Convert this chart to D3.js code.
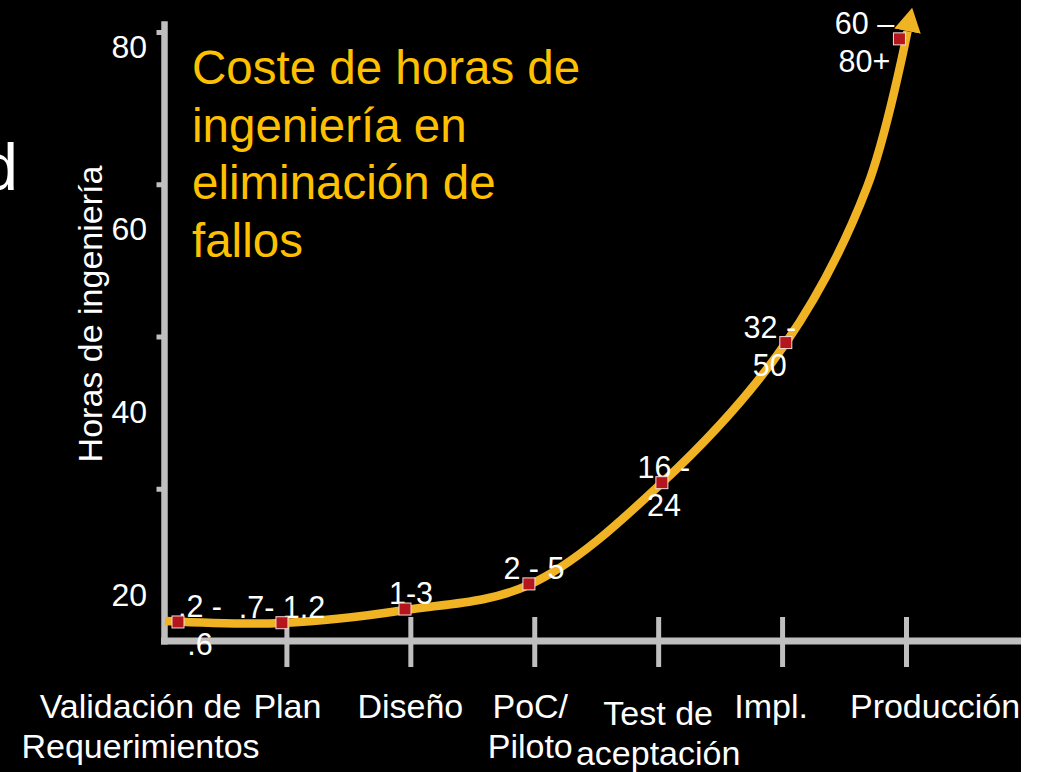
<!DOCTYPE html>
<html>
<head>
<meta charset="utf-8">
<script src="https://cdn.jsdelivr.net/npm/d3@7"></script>
<style>
  body { margin: 0; background: #fff; }
  svg { display: block; font-family: "Liberation Sans", Arial, sans-serif; }
</style>
</head>
<body>
<div class="chart"></div>
<script>
// Data
var categories = [["Validación de", "Requerimientos"], ["Plan"], ["Diseño"], ["PoC/", "Piloto"], ["Test de", "aceptación"], ["Impl."], ["Producción"]];
var markerStage = [0.125, 0.964, 1.957, 2.957, 4.03, 5.03, 5.947];
var markerHours = [2.5, 2.4, 4.2, 7.5, 20.8, 39.2, 79.1];
var pointLabels = [[".2 -", ".6"], [".7- 1.2"], ["1-3"], ["2 - 5"], ["16 -", "24"], ["32 -", "50"], ["60 –", "80+"]];
// the drawn trend curve (from the axis up to the arrow base)
var curveStage = [0.02, 0.964, 1.957, 2.957, 4.03, 5.03, 5.685, 6.012];
var curveHours = [2.63, 2.36, 4.07, 7.36, 20.76, 39.15, 59.6, 80.1];
var yTicks = [20, 40, 60, 80];
var yTickLabels = [20, 40, 60, 80];
var xTicks = [1, 2, 3, 4, 5, 6];
var titleLines = ["Coste de horas de", "ingeniería en", "eliminación de", "fallos"];
var yTitle = "Horas de ingeniería";

// layout nudges (px)
var catNudge = [[-22, 0], [1, 0], [0, 0], [-4, 0], [0, 7], [-11, 0], [29, 0]];
var labelDx = [22, 0, 6, 5, 2, -16, -35];

var svgWidth = 1039;
var svgHeight = 772;
var plotRight = 1021;

var svg = d3.select(".chart")
  .append("svg")
  .attr("width", svgWidth)
  .attr("height", svgHeight);

svg.append("rect")
  .attr("width", plotRight)
  .attr("height", svgHeight)
  .attr("fill", "#000");

// Scales
var xScale = d3.scaleLinear().domain([0, 6]).range([162.5, 906]);
var yScale = d3.scaleLinear().domain([0, 80]).range([641, 32]);
// the tick numbers in the original sit apart from the tick marks
var yLabelScale = d3.scaleLinear().domain([20, 80]).range([594.8, 46.8]);

var axisColor = "#bfbfbf";

// left edge fragment of slide text
svg.append("text")
  .attr("x", 18)
  .attr("y", 190)
  .attr("text-anchor", "end")
  .attr("font-size", 66)
  .attr("fill", "#fff")
  .text("d");

// Y axis
var yAxisG = svg.append("g")
  .attr("transform", `translate(${xScale(0) + 2},0)`)
  .call(d3.axisLeft(yScale).tickValues(yTicks).tickSize(8).tickFormat(""));
yAxisG.select(".domain").remove();
yAxisG.selectAll(".tick line").attr("stroke", axisColor).attr("stroke-width", 5);

svg.append("line")
  .attr("x1", xScale(0) + 2).attr("x2", xScale(0) + 2)
  .attr("y1", yScale(81.4)).attr("y2", yScale(0) + 3.5)
  .attr("stroke", axisColor)
  .attr("stroke-width", 6.5);

var yLabG = svg.append("g")
  .attr("transform", "translate(150,0)")
  .call(d3.axisLeft(yLabelScale).tickValues(yTickLabels).tickSize(0).tickPadding(3));
yLabG.select(".domain").remove();
yLabG.selectAll("text")
  .attr("fill", "#fff")
  .attr("font-size", 32)
  .attr("font-family", "Liberation Sans, Arial, sans-serif");

// X axis
svg.append("line")
  .attr("x1", xScale(0) - 1.5).attr("x2", plotRight)
  .attr("y1", yScale(0)).attr("y2", yScale(0))
  .attr("stroke", axisColor)
  .attr("stroke-width", 7);

var xAxisG = svg.append("g")
  .attr("transform", `translate(0,${yScale(0)})`)
  .call(d3.axisBottom(xScale).tickValues(xTicks).tickSize(26).tickFormat(""));
xAxisG.select(".domain").remove();
xAxisG.selectAll(".tick line")
  .attr("y1", -24)
  .attr("stroke", axisColor)
  .attr("stroke-width", 5);

// category labels
svg.append("g")
  .selectAll("text")
  .data(categories)
  .enter()
  .append("text")
  .attr("text-anchor", "middle")
  .attr("font-size", 34)
  .attr("fill", "#fff")
  .attr("transform", (d, i) => `translate(${xScale(i) + catNudge[i][0]},${718 + catNudge[i][1]})`)
  .selectAll("tspan")
  .data(d => d)
  .enter()
  .append("tspan")
  .attr("x", 0)
  .attr("y", (d, j) => j * 40)
  .text(d => d);

// Y title
svg.append("text")
  .attr("transform", "translate(102,314) rotate(-90)")
  .attr("text-anchor", "middle")
  .attr("font-size", 34)
  .attr("fill", "#fff")
  .text(yTitle);

// Chart title
svg.append("text")
  .attr("font-size", 47.5)
  .attr("fill", "#ffc000")
  .selectAll("tspan")
  .data(titleLines)
  .enter()
  .append("tspan")
  .attr("x", 192)
  .attr("y", (d, i) => 84 + i * 57.5)
  .text(d => d);

// Curve with arrow
var curveColor = "#f0b323";
svg.append("defs").append("marker")
  .attr("id", "arrow")
  .attr("markerUnits", "userSpaceOnUse")
  .attr("viewBox", "0 -13.5 24 27")
  .attr("markerWidth", 24)
  .attr("markerHeight", 27)
  .attr("refX", 0)
  .attr("refY", 0)
  .attr("orient", "auto")
  .append("path")
  .attr("d", "M0,-13.5L24,0L0,13.5Z")
  .attr("fill", curveColor);

var curvePts = curveStage.map((s, i) => [s, curveHours[i]]);
var line = d3.line()
  .x(d => xScale(d[0]))
  .y(d => yScale(d[1]))
  .curve(d3.curveCatmullRom.alpha(0.5));

svg.append("path")
  .datum(curvePts)
  .attr("d", line)
  .attr("fill", "none")
  .attr("stroke", curveColor)
  .attr("stroke-width", 8.5)
  .attr("marker-end", "url(#arrow)");

// point labels
svg.append("g")
  .selectAll("text")
  .data(pointLabels)
  .enter()
  .append("text")
  .attr("text-anchor", "middle")
  .attr("font-size", 30.5)
  .attr("fill", "#fff")
  .attr("transform", (d, i) => `translate(${xScale(markerStage[i]) + labelDx[i]},${yScale(markerHours[i]) - 5})`)
  .selectAll("tspan")
  .data(d => d)
  .enter()
  .append("tspan")
  .attr("x", 0)
  .attr("y", (d, j) => j * 38)
  .text(d => d);

// markers
svg.append("g")
  .selectAll("rect")
  .data(markerStage)
  .enter()
  .append("rect")
  .attr("x", d => xScale(d) - 6)
  .attr("y", (d, i) => yScale(markerHours[i]) - 6)
  .attr("width", 12)
  .attr("height", 12)
  .attr("fill", "#b5161b")
  .attr("stroke", "#f2dcdc")
  .attr("stroke-width", 1);
</script>
</body>
</html>
